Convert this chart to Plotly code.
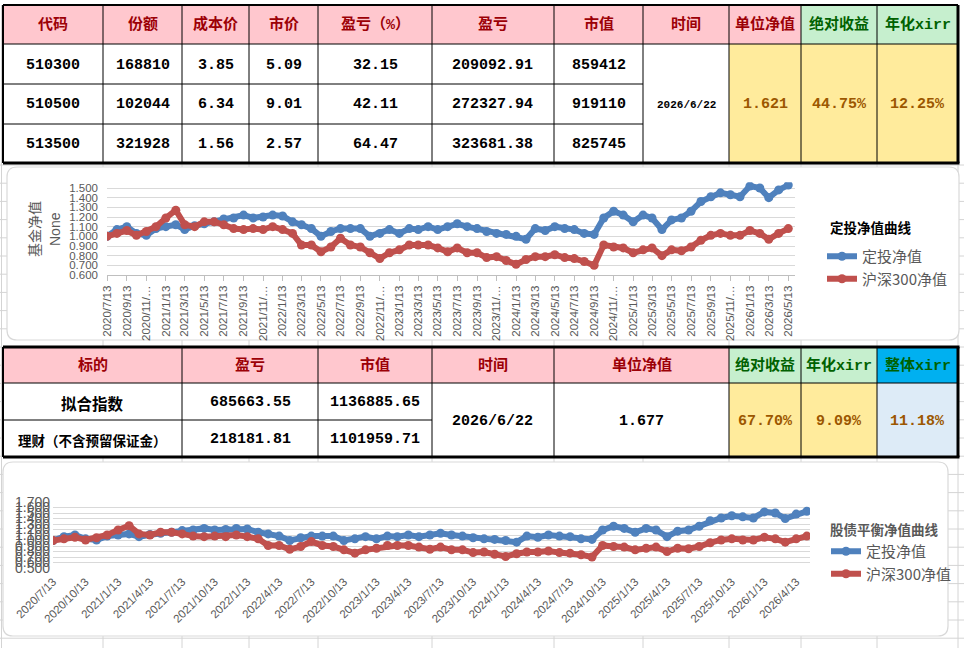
import pandas as pd
import plotly.graph_objects as go

W, H = 964, 648

# ---------------- chart data (monthly reading of the curves) ----------------
dates = pd.date_range("2020-07-13", periods=71, freq=pd.DateOffset(months=1))

dingtou_nav = [
    1.00, 1.07, 1.10, 1.03, 1.01, 1.08,
    1.10, 1.12, 1.07, 1.11, 1.13, 1.15, 1.18, 1.19, 1.22, 1.19, 1.20, 1.22,
    1.21, 1.15, 1.12, 1.08, 1.00, 1.05, 1.08, 1.08, 1.08, 1.00, 1.03, 1.07,
    1.03, 1.08, 1.07, 1.10, 1.07, 1.10, 1.13, 1.10, 1.08, 1.05, 1.03, 1.02,
    1.00, 0.97, 1.08, 1.06, 1.10, 1.08, 1.07, 1.03, 1.02, 1.19, 1.26, 1.22,
    1.15, 1.22, 1.19, 1.07, 1.17, 1.19, 1.26, 1.36, 1.41, 1.45, 1.43, 1.41,
    1.52, 1.50, 1.40, 1.48, 1.53,
]
hs300_nav = [
    1.00, 1.03, 1.06, 1.01, 1.05, 1.10,
    1.19, 1.27, 1.12, 1.10, 1.15, 1.15, 1.12, 1.08, 1.07, 1.08, 1.07, 1.10,
    1.07, 1.03, 0.91, 0.91, 0.84, 0.89, 0.98, 0.91, 0.89, 0.83, 0.77, 0.83,
    0.86, 0.91, 0.91, 0.91, 0.88, 0.84, 0.88, 0.83, 0.83, 0.78, 0.79, 0.75,
    0.71, 0.76, 0.79, 0.79, 0.81, 0.78, 0.77, 0.74, 0.70, 0.91, 0.89, 0.88,
    0.83, 0.86, 0.88, 0.80, 0.86, 0.85, 0.89, 0.96, 1.01, 1.03, 1.01, 1.01,
    1.06, 1.03, 0.97, 1.03, 1.08,
]

ticks1 = list(dates[::2])
ticktext1 = [f"{d.year}/{d.month}/13" if d.month < 10 else f"{d.year}/{d.month}/…" for d in ticks1]
ticks2 = list(dates[::3])
ticktext2 = [f"{d.year}/{d.month}/13" for d in ticks2]

# ---------------- table data ----------------
t1_headers = ["代码", "份额", "成本价", "市价", "盈亏（%）", "盈亏", "市值", "时间", "单位净值", "绝对收益", "年化xirr"]
t1_codes = ["510300", "510500", "513500"]
t1_shares = ["168810", "102044", "321928"]
t1_cost = ["3.85", "6.34", "1.56"]
t1_price = ["5.09", "9.01", "2.57"]
t1_pnl_pct = ["32.15", "42.11", "64.47"]
t1_pnl = ["209092.91", "272327.94", "323681.38"]
t1_mv = ["859412", "919110", "825745"]
t1_date = "2026/6/22"
t1_nav = "1.621"
t1_abs = "44.75%"
t1_xirr = "12.25%"

t2_headers = ["标的", "盈亏", "市值", "时间", "单位净值", "绝对收益", "年化xirr", "整体xirr"]
t2_names = ["拟合指数", "理财（不含预留保证金）"]
t2_pnl = ["685663.55", "218181.81"]
t2_mv = ["1136885.65", "1101959.71"]
t2_date = "2026/6/22"
t2_nav = "1.677"
t2_abs = "67.70%"
t2_xirr = "9.09%"
t2_total_xirr = "11.18%"

# ---------------- styles ----------------
BLUE = "#4F81BD"
RED = "#C0504D"
GRAY = "#595959"
PINK, PINK_TXT = "#FFC7CE", "#9C0006"
GREEN, GREEN_TXT = "#C6EFCE", "#006100"
YELLOW, YELLOW_TXT = "#FFEB9C", "#9C5700"
CYAN, LIGHTBLUE = "#00B0F0", "#DDEBF7"
TFONT = "Liberation Mono, Noto Sans CJK SC"
CFONT = "Liberation Sans, Noto Sans CJK SC"


def px(x):
    return x / W


def py(y):
    return 1 - y / H


shapes = []
annotations = []


def rect(x0, y0, x1, y1, fill):
    shapes.append(dict(type="rect", xref="paper", yref="paper", x0=px(x0), x1=px(x1),
                       y0=py(y1), y1=py(y0), fillcolor=fill, line=dict(width=0), layer="below"))


def line(x0, y0, x1, y1, color="black", width=1):
    shapes.append(dict(type="line", xref="paper", yref="paper", x0=px(x0), x1=px(x1),
                       y0=py(y0), y1=py(y1), line=dict(color=color, width=width), layer="below"))


def rounded_box(x0, y0, x1, y1, r=10):
    rx, ry = r / W, r / H
    a, b, c, d = px(x0), px(x1), py(y0), py(y1)
    path = (f"M {a + rx},{c} L {b - rx},{c} Q {b},{c} {b},{c - ry} L {b},{d + ry} "
            f"Q {b},{d} {b - rx},{d} L {a + rx},{d} Q {a},{d} {a},{d + ry} "
            f"L {a},{c - ry} Q {a},{c} {a + rx},{c} Z")
    shapes.append(dict(type="path", xref="paper", yref="paper", path=path,
                       fillcolor="white", line=dict(color="#D9D9D9", width=1.2), layer="below"))


def text(x, y, s, size=15, color="black", family=TFONT, bold=True, angle=0, xanchor="center"):
    annotations.append(dict(x=px(x), y=py(y), xref="paper", yref="paper", text=f"<b>{s}</b>" if bold else s,
                            showarrow=False, xanchor=xanchor, yanchor="middle", textangle=angle,
                            font=dict(size=size, color=color, family=family)))


# ---------------- sheet grid behind everything ----------------
SHEET_COLS = [1.5, 103, 182, 249, 318, 432, 554, 643, 729, 801, 877, 958]
for cx in SHEET_COLS:
    line(cx, 0, cx, H, "#D4D4D4", 1)
k = 0
while 165 + k * 18.2 < H:
    line(0, 165 + k * 18.2, W, 165 + k * 18.2, "#D4D4D4", 1)
    k += 1
rect(0, 0, W, 5, "white")

# ---------------- table 1 ----------------
T1_X = [3, 103, 182, 249, 318, 432, 554, 643, 729, 801, 877, 958]
T1_Y = [5, 44, 84, 124, 163]
rect(T1_X[0], T1_Y[0], T1_X[-1], T1_Y[-1], "white")
for i, h in enumerate(t1_headers):
    green = i >= 9
    rect(T1_X[i], T1_Y[0], T1_X[i + 1], T1_Y[1], GREEN if green else PINK)
    text((T1_X[i] + T1_X[i + 1]) / 2, 25, h, 15, GREEN_TXT if green else PINK_TXT)
rect(T1_X[8], T1_Y[1], T1_X[11], T1_Y[4], YELLOW)
cols1 = [t1_codes, t1_shares, t1_cost, t1_price, t1_pnl_pct, t1_pnl, t1_mv]
for j, col in enumerate(cols1):
    for r, v in enumerate(col):
        text((T1_X[j] + T1_X[j + 1]) / 2, (T1_Y[r + 1] + T1_Y[r + 2]) / 2 + 1, v, 15)
mid1 = (T1_Y[1] + T1_Y[4]) / 2 + 1
text((T1_X[7] + T1_X[8]) / 2, mid1, t1_date, 11)
text((T1_X[8] + T1_X[9]) / 2, mid1, t1_nav, 15, YELLOW_TXT)
text((T1_X[9] + T1_X[10]) / 2, mid1, t1_abs, 15, YELLOW_TXT)
text((T1_X[10] + T1_X[11]) / 2, mid1, t1_xirr, 15, YELLOW_TXT)
line(T1_X[0], T1_Y[1], T1_X[-1], T1_Y[1])
for yy in T1_Y[2:4]:
    line(T1_X[0], yy, T1_X[7], yy)
for xx in T1_X[1:-1]:
    line(xx, T1_Y[0], xx, T1_Y[-1])
line(T1_X[0], T1_Y[0], T1_X[-1], T1_Y[0], width=2)
line(T1_X[0], T1_Y[0], T1_X[0], T1_Y[-1], width=2)
line(T1_X[0], T1_Y[-1], T1_X[-1] + 1.5, T1_Y[-1], width=3)
line(T1_X[-1], T1_Y[0], T1_X[-1], T1_Y[-1], width=3)

# ---------------- table 2 ----------------
T2_X = [3, 182, 318, 432, 554, 729, 801, 877, 958]
T2_Y = [347, 383, 420, 457]
rect(T2_X[0], T2_Y[0], T2_X[-1], T2_Y[-1], "white")
for i, h in enumerate(t2_headers):
    fill = PINK if i < 5 else (GREEN if i < 7 else CYAN)
    rect(T2_X[i], T2_Y[0], T2_X[i + 1], T2_Y[1], fill)
    text((T2_X[i] + T2_X[i + 1]) / 2, 366, h, 15, PINK_TXT if i < 5 else GREEN_TXT)
rect(T2_X[5], T2_Y[1], T2_X[7], T2_Y[3], YELLOW)
rect(T2_X[7], T2_Y[1], T2_X[8], T2_Y[3], LIGHTBLUE)
for r in range(2):
    cy = (T2_Y[r + 1] + T2_Y[r + 2]) / 2 + 1
    text((T2_X[0] + T2_X[1]) / 2, cy, t2_names[r], 15.5 if r == 0 else 13.5, family="Noto Sans CJK SC")
    text((T2_X[1] + T2_X[2]) / 2, cy, t2_pnl[r], 15)
    text((T2_X[2] + T2_X[3]) / 2, cy, t2_mv[r], 15)
mid2 = (T2_Y[1] + T2_Y[3]) / 2 + 1
text((T2_X[3] + T2_X[4]) / 2, mid2, t2_date, 15)
text((T2_X[4] + T2_X[5]) / 2, mid2, t2_nav, 15)
text((T2_X[5] + T2_X[6]) / 2, mid2, t2_abs, 15, YELLOW_TXT)
text((T2_X[6] + T2_X[7]) / 2, mid2, t2_xirr, 15, YELLOW_TXT)
text((T2_X[7] + T2_X[8]) / 2, mid2, t2_total_xirr, 15, YELLOW_TXT)
line(T2_X[0], T2_Y[1], T2_X[-1], T2_Y[1])
line(T2_X[0], T2_Y[2], T2_X[3], T2_Y[2])
for xx in T2_X[1:-1]:
    line(xx, T2_Y[0], xx, T2_Y[-1])
line(T2_X[0], T2_Y[0], T2_X[-1] + 1.5, T2_Y[0], width=3)
line(T2_X[0], T2_Y[0], T2_X[0], T2_Y[-1], width=2)
line(T2_X[0], T2_Y[-1], T2_X[-1] + 1.5, T2_Y[-1], width=3)
line(T2_X[-1], T2_Y[0], T2_X[-1], T2_Y[-1], width=3)

# ---------------- chart boxes and chart texts ----------------
rounded_box(7, 167, 959, 340)
rounded_box(3, 462, 948, 636)
text(35, 229, "基金净值", 14, GRAY, CFONT, bold=False, angle=-90)
text(55, 229, "None", 14, GRAY, CFONT, bold=False, angle=-90)
text(871, 227, "定投净值曲线", 13.5, "black", "Noto Sans CJK SC")
text(884, 529, "股债平衡净值曲线", 13.5, GRAY, "Noto Sans CJK SC")

# ---------------- traces ----------------
fig = go.Figure()
for ax, lg in (("1", "legend"), ("2", "legend2")):
    xa = "x" if ax == "1" else "x2"
    ya = "y" if ax == "1" else "y2"
    fig.add_trace(go.Scatter(x=dates, y=dingtou_nav, name="定投净值", mode="lines+markers",
                             line=dict(color=BLUE, width=6), marker=dict(size=9, color=BLUE),
                             xaxis=xa, yaxis=ya, legend=lg, hoverinfo="x+y"))
    fig.add_trace(go.Scatter(x=dates, y=hs300_nav, name="沪深300净值", mode="lines+markers",
                             line=dict(color=RED, width=6), marker=dict(size=9, color=RED),
                             xaxis=xa, yaxis=ya, legend=lg, hoverinfo="x+y"))

y1_lo, y1_hi = 0.6, 1.56
y1_px_per = (275 - 188) / 0.9
legend_common = dict(xanchor="left", yanchor="top", bgcolor="rgba(0,0,0,0)", itemwidth=30,
                     font=dict(size=15, color=GRAY, family="Noto Sans CJK SC"), tracegroupgap=0)

fig.update_layout(
    template="none",
    width=W, height=H,
    margin=dict(l=0, r=0, t=0, b=0, pad=0),
    paper_bgcolor="white",
    plot_bgcolor="rgba(0,0,0,0)",
    showlegend=True,
    shapes=shapes,
    annotations=annotations,
    xaxis=dict(type="date", domain=[px(107), px(795)], range=["2020-07-13", "2026-06-03"],
               tickvals=ticks1, ticktext=ticktext1, tickangle=-90, anchor="y", automargin=False,
               tickfont=dict(size=11.5, color=GRAY, family=CFONT), showgrid=False,
               showline=True, linecolor="#BFBFBF", ticks="outside", ticklen=5, tickcolor="#BFBFBF",
               fixedrange=True),
    yaxis=dict(domain=[py(275), py(275 - (y1_hi - y1_lo) * y1_px_per)], range=[y1_lo, y1_hi],
               tick0=0.6, dtick=0.1, tickformat=".3f", anchor="x", automargin=False,
               tickfont=dict(size=11.5, color=GRAY, family=CFONT), gridcolor="#D9D9D9",
               showline=False, ticks="", zeroline=False, ticklabelstandoff=8, fixedrange=True),
    xaxis2=dict(type="date", domain=[px(53), px(810)], range=["2020-07-13", "2026-05-22"],
                tickvals=ticks2, ticktext=ticktext2, tickangle=-45, anchor="y2", automargin=False,
                tickfont=dict(size=11.5, color=GRAY, family=CFONT), showgrid=False,
                showline=False, ticks="", ticklabelstandoff=4, fixedrange=True),
    yaxis2=dict(domain=[py(568), py(502)], range=[0.5, 1.7], tick0=0.5, dtick=0.1,
                tickformat=".3f", anchor="x2", automargin=False,
                tickfont=dict(size=14, color=GRAY, family=CFONT), gridcolor="#D9D9D9",
                showline=False, ticks="", zeroline=False, ticklabelstandoff=2, fixedrange=True),
    legend=dict(x=px(822), y=py(240), **legend_common),
    legend2=dict(x=px(826), y=py(535), **legend_common),
)

# the page's default body margin would push the sheet off the window
fig.write_html("out.html", config={"displayModeBar": False},
               post_script="document.body.style.margin='0';")
